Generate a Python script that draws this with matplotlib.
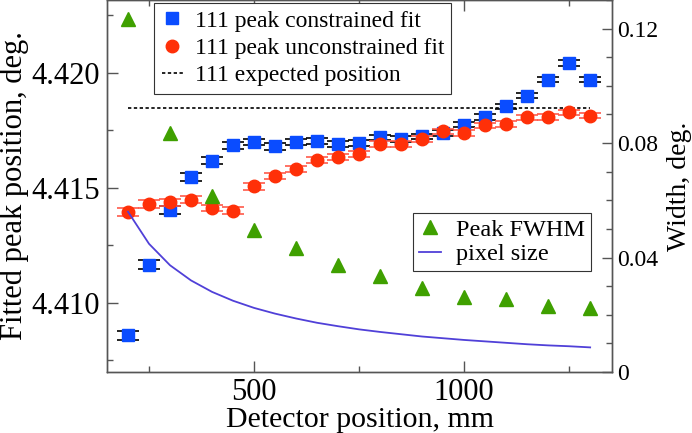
import matplotlib
matplotlib.use('Agg')
import matplotlib.pyplot as plt
from matplotlib.lines import Line2D
from matplotlib.ticker import MultipleLocator

plt.rcParams['font.family'] = ['Liberation Serif', 'DejaVu Serif']

# detector positions, mm
dist = [200, 250, 300, 350, 400, 450, 500, 550, 600, 650, 700, 750,
        800, 850, 900, 950, 1000, 1050, 1100, 1150, 1200, 1250, 1300]
# 111 peak, constrained fit (deg.)
pos_con = [4.40859, 4.41167, 4.41403, 4.41548, 4.41619, 4.41685, 4.41700,
           4.41681, 4.41700, 4.41703, 4.41691, 4.41696, 4.41720, 4.41713,
           4.41724, 4.41740, 4.41775, 4.41809, 4.41855, 4.41901, 4.41971,
           4.42043, 4.41971]
err_con = [0.00020, 0.00020, 0.00018, 0.00017, 0.00016, 0.00015, 0.00014,
           0.00014, 0.00014, 0.00013, 0.00013, 0.00013, 0.00012, 0.00012,
           0.00012, 0.00012, 0.00012, 0.00012, 0.00012, 0.00012, 0.00012,
           0.00012, 0.00012]
# 111 peak, unconstrained fit (deg.)
pos_unc = [4.41394, 4.41430, 4.41437, 4.41449, 4.41413, 4.41401, 4.41507,
           4.41553, 4.41583, 4.41623, 4.41635, 4.41649, 4.41691, 4.41691,
           4.41713, 4.41746, 4.41739, 4.41772, 4.41778, 4.41807, 4.41809,
           4.41829, 4.41814]
err_unc = [0.00018, 0.00017, 0.00016, 0.00016, 0.00015, 0.00015, 0.00014,
           0.00014, 0.00013, 0.00013, 0.00013, 0.00013, 0.00012, 0.00012,
           0.00012, 0.00012, 0.00012, 0.00012, 0.00012, 0.00012, 0.00012,
           0.00012, 0.00012]
expected = 4.41848

# peak FWHM (deg.)
fwhm_dist = [200, 300, 400, 500, 600, 700, 800, 900, 1000, 1100, 1200, 1300]
fwhm = [0.1235, 0.0835, 0.0614, 0.0495, 0.0433, 0.0375, 0.0334, 0.0293,
        0.0261, 0.0254, 0.0232, 0.0223]
# pixel size (deg.)
pix = [0.0560, 0.0448, 0.0373, 0.0320, 0.0280, 0.0249, 0.0224, 0.0204,
       0.0187, 0.0172, 0.0160, 0.0149, 0.0140, 0.0132, 0.0124, 0.0118,
       0.0112, 0.0107, 0.0102, 0.0097, 0.0093, 0.0090, 0.0086]

c_blue = '#0a4cff'
c_red = '#ff3008'
c_green = '#3fa000'
c_purple = '#5040d8'
c_axis = '#555555'

fig = plt.figure(figsize=(6.92, 4.33), dpi=100)
ax = fig.add_axes([107/692, 61/433, 505/692, 372/433])
ax2 = ax.twinx()

ax.errorbar(dist, pos_con, yerr=err_con, fmt='s', color=c_blue, ms=8,
            ecolor='black', elinewidth=1, capsize=8, capthick=1.2, zorder=3)
ax.errorbar(dist, pos_unc, yerr=err_unc, fmt='o', color=c_red, ms=9,
            ecolor='#ff5a4a', elinewidth=1, capsize=8, capthick=1.2, zorder=4)
ax.plot([dist[0], dist[-1]], [expected, expected], ls=(0, (2, 1.5)),
        color='black', lw=1.2, zorder=2)

ax2.plot(fwhm_dist, fwhm, '^', color=c_green, ms=10, ls='none')
ax2.plot(dist, pix, '-', color=c_purple, lw=1.3)

ax.set_xlim(150, 1352)
ax.set_ylim(4.407, 4.42317)
ax2.set_ylim(0, 0.13)

ax.set_xticks([500, 1000])
ax.xaxis.set_minor_locator(MultipleLocator(250))
ax.set_yticks([4.410, 4.415, 4.420])
ax.set_yticklabels(['4.410', '4.415', '4.420'])
ax.yaxis.set_minor_locator(MultipleLocator(0.0025))
ax2.set_yticks([0, 0.04, 0.08, 0.12])
ax2.set_yticklabels(['0', '0.04', '0.08', '0.12'])
ax2.yaxis.set_minor_locator(MultipleLocator(0.01))

ax.tick_params(axis='both', which='both', direction='in', color=c_axis,
               top=True, right=False, labelsize=22, pad=5)
ax.tick_params(axis='x', pad=4)
ax.tick_params(which='major', length=8, width=1)
ax.tick_params(which='minor', length=4.5, width=1)
ax2.tick_params(axis='y', which='both', direction='in', color=c_axis,
                labelsize=17, pad=4)
ax2.tick_params(which='major', length=7, width=1)
ax2.tick_params(which='minor', length=4, width=1)
for a in (ax, ax2):
    for s in a.spines.values():
        s.set_color(c_axis)
        s.set_linewidth(1)

ax.set_xlabel('Detector position, mm', fontsize=21.5, labelpad=0)
ax.set_ylabel('Fitted peak position, deg.', fontsize=22, labelpad=2)
ax2.set_ylabel('Width, deg.', fontsize=20, labelpad=6)

h1 = [Line2D([], [], marker='s', color=c_blue, ls='none', ms=8),
      Line2D([], [], marker='o', color=c_red, ls='none', ms=9),
      Line2D([], [], ls=(0, (2, 1.5)), color='black', lw=1.2)]
leg1 = ax2.legend(h1, ['111 peak constrained fit', '111 peak unconstrained fit',
                       '111 expected position'],
                  loc='upper left', bbox_to_anchor=(0.094, 0.992),
                  borderaxespad=0, fontsize=17, frameon=True, fancybox=False,
                  edgecolor='#333333', framealpha=1, handlelength=0.9,
                  handletextpad=0.5, labelspacing=0.25, borderpad=0.3)
leg1.get_frame().set_linewidth(0.8)
ax2.add_artist(leg1)

h2 = [Line2D([], [], marker='^', color=c_green, ls='none', ms=10),
      Line2D([], [], color=c_purple, lw=1.3)]
leg2 = ax2.legend(h2, ['Peak FWHM', 'pixel size'],
                  loc='upper left', bbox_to_anchor=(0.606, 0.428),
                  borderaxespad=0, fontsize=17.5, frameon=True, fancybox=False,
                  edgecolor='#333333', framealpha=1, handlelength=0.9,
                  handletextpad=0.6, labelspacing=0.1, borderpad=0.25)
leg2.get_frame().set_linewidth(0.8)

fig.savefig('out.png', dpi=100)
